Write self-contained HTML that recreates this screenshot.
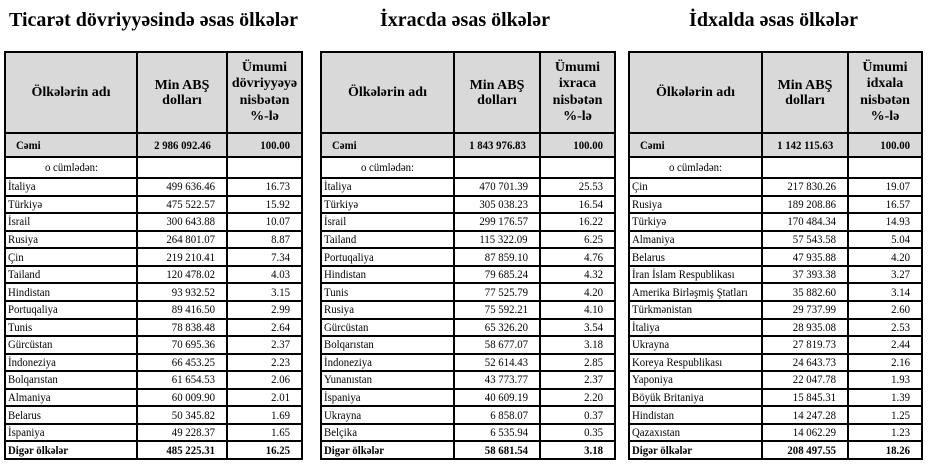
<!DOCTYPE html>
<html><head><meta charset="utf-8">
<style>
html,body{margin:0;padding:0;background:#fff;}
body{width:934px;height:467px;position:relative;overflow:hidden;font-family:"Liberation Serif","DejaVu Serif",serif;color:#000;}
.title{position:absolute;top:10px;height:20px;line-height:20px;font-size:20px;font-weight:bold;text-align:center;white-space:nowrap;}
.t{position:absolute;top:51px;border-left:2px solid #000;border-top:2px solid #000;display:grid;grid-template-rows:81px 24px 21px repeat(16,17.5625px);}
.t1{left:4px;grid-template-columns:132px 90px 75px;}
.t2{left:320px;grid-template-columns:133px 86px 75px;}
.t3{left:628px;grid-template-columns:133px 86px 74px;}
.t>div{box-sizing:border-box;border-right:2px solid #000;border-bottom:2px solid #000;display:flex;align-items:center;font-size:12px;white-space:nowrap;}
.t>div>span{display:inline-block;transform:scaleX(.9);transform-origin:center;}
.h{background:#d9d9d9;font-weight:bold;font-size:14px !important;justify-content:center;text-align:center;}
.h2{line-height:15px;}
.h3{line-height:16.5px;}
.c{background:#d9d9d9;font-weight:bold;}
.cl{padding-left:10px;}
.cl>span{transform-origin:left !important;}
.cc{justify-content:center;}
.n{justify-content:flex-end;padding-right:11px;}
.n>span{transform-origin:right !important;}
.l{padding-left:2px;}
.l>span{transform-origin:left !important;}
.b{font-weight:bold;}
</style></head><body>
<div class="title" style="left:4px;width:299px;">Ticarət dövriyyəsində əsas ölkələr</div>
<div class="title" style="left:317px;width:296px;">İxracda əsas ölkələr</div>
<div class="title" style="left:626px;width:295px;">İdxalda əsas ölkələr</div>

<div class="t t1">
<div class="h">Ölkələrin adı</div><div class="h h2">Min ABŞ<br>dolları</div><div class="h h3">Ümumi<br>dövriyyəyə<br>nisbətən<br>%-lə</div>
<div class="c cl"><span>Cəmi</span></div><div class="c cc"><span>2 986 092.46</span></div><div class="c n"><span>100.00</span></div>
<div class="cc"><span>o cümlədən:</span></div><div></div><div></div>
<div class="l"><span>İtaliya</span></div><div class="n"><span>499 636.46</span></div><div class="n"><span>16.73</span></div>
<div class="l"><span>Türkiyə</span></div><div class="n"><span>475 522.57</span></div><div class="n"><span>15.92</span></div>
<div class="l"><span>İsrail</span></div><div class="n"><span>300 643.88</span></div><div class="n"><span>10.07</span></div>
<div class="l"><span>Rusiya</span></div><div class="n"><span>264 801.07</span></div><div class="n"><span>8.87</span></div>
<div class="l"><span>Çin</span></div><div class="n"><span>219 210.41</span></div><div class="n"><span>7.34</span></div>
<div class="l"><span>Tailand</span></div><div class="n"><span>120 478.02</span></div><div class="n"><span>4.03</span></div>
<div class="l"><span>Hindistan</span></div><div class="n"><span>93 932.52</span></div><div class="n"><span>3.15</span></div>
<div class="l"><span>Portuqaliya</span></div><div class="n"><span>89 416.50</span></div><div class="n"><span>2.99</span></div>
<div class="l"><span>Tunis</span></div><div class="n"><span>78 838.48</span></div><div class="n"><span>2.64</span></div>
<div class="l"><span>Gürcüstan</span></div><div class="n"><span>70 695.36</span></div><div class="n"><span>2.37</span></div>
<div class="l"><span>İndoneziya</span></div><div class="n"><span>66 453.25</span></div><div class="n"><span>2.23</span></div>
<div class="l"><span>Bolqarıstan</span></div><div class="n"><span>61 654.53</span></div><div class="n"><span>2.06</span></div>
<div class="l"><span>Almaniya</span></div><div class="n"><span>60 009.90</span></div><div class="n"><span>2.01</span></div>
<div class="l"><span>Belarus</span></div><div class="n"><span>50 345.82</span></div><div class="n"><span>1.69</span></div>
<div class="l"><span>İspaniya</span></div><div class="n"><span>49 228.37</span></div><div class="n"><span>1.65</span></div>
<div class="l b"><span>Digər ölkələr</span></div><div class="n b"><span>485 225.31</span></div><div class="n b"><span>16.25</span></div>
</div>

<div class="t t2">
<div class="h">Ölkələrin adı</div><div class="h h2">Min ABŞ<br>dolları</div><div class="h h3">Ümumi<br>ixraca<br>nisbətən<br>%-lə</div>
<div class="c cl"><span>Cəmi</span></div><div class="c cc"><span>1 843 976.83</span></div><div class="c n"><span>100.00</span></div>
<div class="cc"><span>o cümlədən:</span></div><div></div><div></div>
<div class="l"><span>İtaliya</span></div><div class="n"><span>470 701.39</span></div><div class="n"><span>25.53</span></div>
<div class="l"><span>Türkiyə</span></div><div class="n"><span>305 038.23</span></div><div class="n"><span>16.54</span></div>
<div class="l"><span>İsrail</span></div><div class="n"><span>299 176.57</span></div><div class="n"><span>16.22</span></div>
<div class="l"><span>Tailand</span></div><div class="n"><span>115 322.09</span></div><div class="n"><span>6.25</span></div>
<div class="l"><span>Portuqaliya</span></div><div class="n"><span>87 859.10</span></div><div class="n"><span>4.76</span></div>
<div class="l"><span>Hindistan</span></div><div class="n"><span>79 685.24</span></div><div class="n"><span>4.32</span></div>
<div class="l"><span>Tunis</span></div><div class="n"><span>77 525.79</span></div><div class="n"><span>4.20</span></div>
<div class="l"><span>Rusiya</span></div><div class="n"><span>75 592.21</span></div><div class="n"><span>4.10</span></div>
<div class="l"><span>Gürcüstan</span></div><div class="n"><span>65 326.20</span></div><div class="n"><span>3.54</span></div>
<div class="l"><span>Bolqarıstan</span></div><div class="n"><span>58 677.07</span></div><div class="n"><span>3.18</span></div>
<div class="l"><span>İndoneziya</span></div><div class="n"><span>52 614.43</span></div><div class="n"><span>2.85</span></div>
<div class="l"><span>Yunanıstan</span></div><div class="n"><span>43 773.77</span></div><div class="n"><span>2.37</span></div>
<div class="l"><span>İspaniya</span></div><div class="n"><span>40 609.19</span></div><div class="n"><span>2.20</span></div>
<div class="l"><span>Ukrayna</span></div><div class="n"><span>6 858.07</span></div><div class="n"><span>0.37</span></div>
<div class="l"><span>Belçika</span></div><div class="n"><span>6 535.94</span></div><div class="n"><span>0.35</span></div>
<div class="l b"><span>Digər ölkələr</span></div><div class="n b"><span>58 681.54</span></div><div class="n b"><span>3.18</span></div>
</div>

<div class="t t3">
<div class="h">Ölkələrin adı</div><div class="h h2">Min ABŞ<br>dolları</div><div class="h h3">Ümumi<br>idxala<br>nisbətən<br>%-lə</div>
<div class="c cl"><span>Cəmi</span></div><div class="c cc"><span>1 142 115.63</span></div><div class="c n"><span>100.00</span></div>
<div class="cc"><span>o cümlədən:</span></div><div></div><div></div>
<div class="l"><span>Çin</span></div><div class="n"><span>217 830.26</span></div><div class="n"><span>19.07</span></div>
<div class="l"><span>Rusiya</span></div><div class="n"><span>189 208.86</span></div><div class="n"><span>16.57</span></div>
<div class="l"><span>Türkiyə</span></div><div class="n"><span>170 484.34</span></div><div class="n"><span>14.93</span></div>
<div class="l"><span>Almaniya</span></div><div class="n"><span>57 543.58</span></div><div class="n"><span>5.04</span></div>
<div class="l"><span>Belarus</span></div><div class="n"><span>47 935.88</span></div><div class="n"><span>4.20</span></div>
<div class="l"><span>İran İslam Respublikası</span></div><div class="n"><span>37 393.38</span></div><div class="n"><span>3.27</span></div>
<div class="l"><span>Amerika Birləşmiş Ştatları</span></div><div class="n"><span>35 882.60</span></div><div class="n"><span>3.14</span></div>
<div class="l"><span>Türkmənistan</span></div><div class="n"><span>29 737.99</span></div><div class="n"><span>2.60</span></div>
<div class="l"><span>İtaliya</span></div><div class="n"><span>28 935.08</span></div><div class="n"><span>2.53</span></div>
<div class="l"><span>Ukrayna</span></div><div class="n"><span>27 819.73</span></div><div class="n"><span>2.44</span></div>
<div class="l"><span>Koreya Respublikası</span></div><div class="n"><span>24 643.73</span></div><div class="n"><span>2.16</span></div>
<div class="l"><span>Yaponiya</span></div><div class="n"><span>22 047.78</span></div><div class="n"><span>1.93</span></div>
<div class="l"><span>Böyük Britaniya</span></div><div class="n"><span>15 845.31</span></div><div class="n"><span>1.39</span></div>
<div class="l"><span>Hindistan</span></div><div class="n"><span>14 247.28</span></div><div class="n"><span>1.25</span></div>
<div class="l"><span>Qazaxıstan</span></div><div class="n"><span>14 062.29</span></div><div class="n"><span>1.23</span></div>
<div class="l b"><span>Digər ölkələr</span></div><div class="n b"><span>208 497.55</span></div><div class="n b"><span>18.26</span></div>
</div>
</body></html>
